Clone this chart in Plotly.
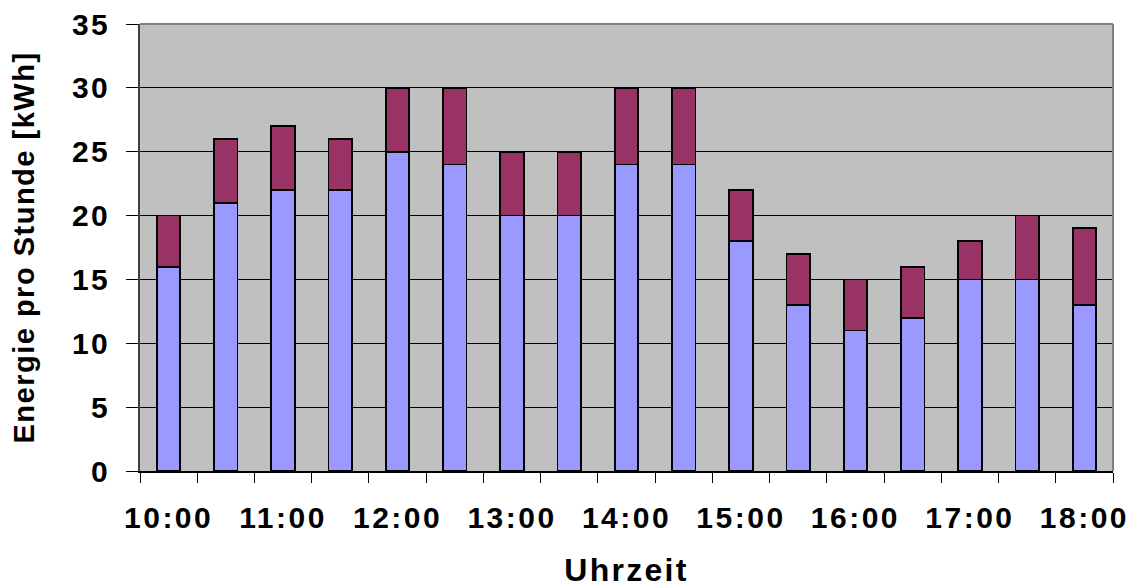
import plotly.graph_objects as go

# Half-hourly slots and the energy split into two stacked parts (kWh per hour)
times = ["10:00", "10:30", "11:00", "11:30", "12:00", "12:30", "13:00", "13:30",
         "14:00", "14:30", "15:00", "15:30", "16:00", "16:30", "17:00", "17:30", "18:00"]
base_kwh = [16, 21, 22, 22, 25, 24, 20, 20, 24, 24, 18, 13, 11, 12, 15, 15, 13]
top_kwh = [4, 5, 5, 4, 5, 6, 5, 5, 6, 6, 4, 4, 4, 4, 3, 5, 6]
y_ticks = [0, 5, 10, 15, 20, 25, 30, 35]

x_pos = list(range(len(times)))
hour_pos = [i for i, t in enumerate(times) if t.endswith(":00")]
hour_txt = [times[i] for i in hour_pos]

font_family = "Arial, 'Liberation Sans', sans-serif"
bar_line = dict(color="#000000", width=1.8)
tick_font = dict(family=font_family, size=30, color="#000000", weight="bold")

fig = go.Figure()
fig.add_trace(go.Bar(x=x_pos, y=base_kwh, marker=dict(color="#9999FF", line=bar_line),
                     width=0.41, name="base"))
fig.add_trace(go.Bar(x=x_pos, y=top_kwh, marker=dict(color="#993366", line=bar_line),
                     width=0.41, name="top"))

fig.update_layout(
    barmode="stack",
    width=1138, height=588,
    margin=dict(l=140, r=25, t=24, b=117),
    paper_bgcolor="#FFFFFF",
    plot_bgcolor="#C0C0C0",
    showlegend=False,
    font=dict(family=font_family, size=30, color="#000000"),
    xaxis=dict(
        range=[-0.5, len(times) - 0.5], automargin=False,
        tickmode="array", tickvals=hour_pos, ticktext=hour_txt,
        ticks="", showgrid=False, zeroline=False,
        showline=True, linecolor="#000000", linewidth=1.5,
        tickfont=tick_font, ticklabelstandoff=19,
        minor=dict(ticks="outside", tickmode="linear", tick0=-0.5, dtick=1,
                   ticklen=10, tickcolor="#000000", tickwidth=1.2, showgrid=False),
        title=dict(text="Uhrzeit", standoff=27,
                   font=dict(family=font_family, size=32, color="#000000", weight="bold")),
    ),
    yaxis=dict(
        range=[0, 35], automargin=False,
        tickmode="array", tickvals=y_ticks,
        ticks="outside", ticklen=12, tickcolor="#000000", tickwidth=1.2,
        showgrid=True, gridcolor="#000000", gridwidth=1.2,
        zeroline=False,
        showline=True, linecolor="#404040", linewidth=1.5,
        tickfont=tick_font, ticklabelstandoff=10,
        title=dict(text="Energie pro Stunde [kWh]", standoff=34,
                   font=dict(family=font_family, size=29, color="#000000", weight="bold")),
    ),
    shapes=[
        dict(type="line", xref="paper", yref="paper", x0=0, x1=1, y0=1, y1=1,
             line=dict(color="#808080", width=2), layer="above"),
        dict(type="line", xref="paper", yref="paper", x0=1, x1=1, y0=0, y1=1,
             line=dict(color="#808080", width=2), layer="above"),
    ],
)

# Widen the letter spacing of the axis texts
spacing_js = """
var gd = document.getElementById('{plot_id}');
function spread() {
  gd.querySelectorAll('.xtick text, .ytick text').forEach(function (t) {
    t.style.letterSpacing = '2.5px';
  });
  gd.querySelectorAll('.xtitle').forEach(function (t) { t.style.letterSpacing = '2.3px'; });
  gd.querySelectorAll('.ytitle').forEach(function (t) { t.style.letterSpacing = '1.5px'; });
}
spread();
gd.on('plotly_afterplot', spread);
"""

fig.write_html("out.html", post_script=spacing_js)
